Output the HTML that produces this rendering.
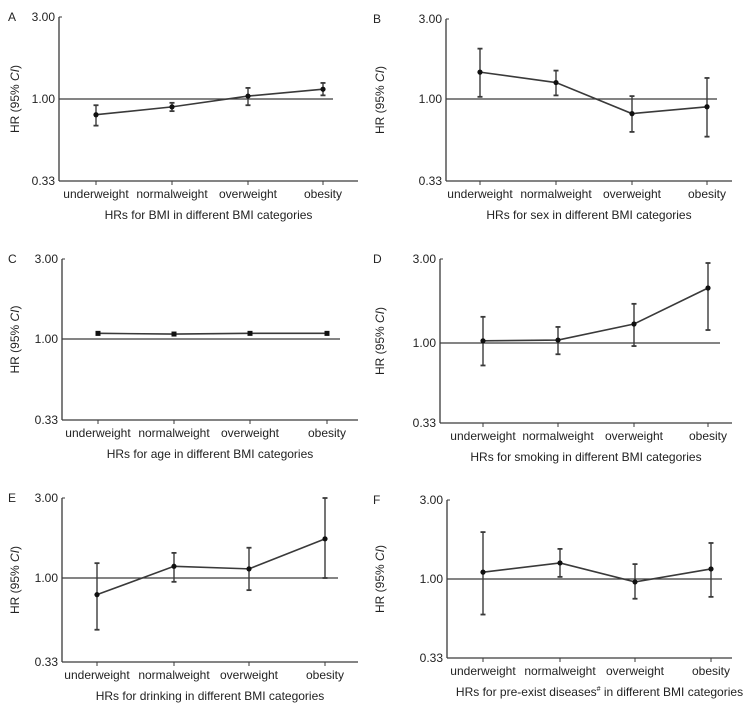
<!DOCTYPE html>
<html><head><meta charset="utf-8"><style>
body{margin:0;background:#fff;}
svg{display:block;font-family:"Liberation Sans",sans-serif;}
</style></head><body>
<svg id="fig" width="751" height="706" viewBox="0 0 751 706"></svg>
<script>
const categories=["underweight","normalweight","overweight","obesity"];
const panelLetters=["A","B","C","D","E","F"];
const panelTitles=["HRs for BMI in different BMI categories","HRs for sex in different BMI categories","HRs for age in different BMI categories","HRs for smoking in different BMI categories","HRs for drinking in different BMI categories","HRs for pre-exist diseases# in different BMI categories"];
const yTickLabels=["3.00","1.00","0.33"];
const yTickValues=[3,1,0.33];
const hrA=[0.81,0.90,1.04,1.14], loA=[0.70,0.85,0.92,1.05], hiA=[0.92,0.95,1.16,1.24];
const hrB=[1.44,1.25,0.82,0.90], loB=[1.03,1.05,0.64,0.60], hiB=[1.98,1.47,1.04,1.33];
const hrC=[1.08,1.07,1.08,1.08], loC=[1.06,1.06,1.07,1.06], hiC=[1.10,1.08,1.09,1.10];
const hrD=[1.03,1.04,1.29,2.09], loD=[0.74,0.86,0.96,1.19], hiD=[1.42,1.24,1.69,2.92];
const hrE=[0.80,1.17,1.13,1.69], loE=[0.50,0.95,0.85,1.00], hiE=[1.22,1.40,1.50,2.92];
const hrF=[1.10,1.25,0.96,1.15], loF=[0.61,1.03,0.76,0.78], hiF=[1.92,1.52,1.23,1.65];
const series=[[hrA,loA,hiA],[hrB,loB,hiB],[hrC,loC,hiC],[hrD,loD,hiD],[hrE,loE,hiE],[hrF,loF,hiF]];
const geo=[
 {ax:59,top:17,one:99,bot:181,xe:358,re:333,cx:[96,172,248,323],lx:8},
 {ax:446,top:19,one:99,bot:181,xe:732,re:717,cx:[480,556,632,707],lx:373},
 {ax:62,top:259,one:339,bot:420,xe:358,re:340,cx:[98,174,250,327],lx:8},
 {ax:440,top:259,one:343,bot:423,xe:732,re:720,cx:[483,558,634,708],lx:373},
 {ax:62,top:498,one:578,bot:662,xe:358,re:338,cx:[97,174,249,325],lx:8},
 {ax:447,top:500,one:579,bot:658,xe:732,re:722,cx:[483,560,635,711],lx:373}
];
const NS="http://www.w3.org/2000/svg";
const svg=document.getElementById('fig');
function mk(tag,at,parent,txt){const e=document.createElementNS(NS,tag);for(const k in at)e.setAttribute(k,at[k]);if(txt!==undefined)e.textContent=txt;parent.appendChild(e);return e;}
const C="#3a3a3a";
geo.forEach((g,p)=>{
  const grp=mk('g',{},svg);
  
  
  const half=(g.bot-g.top)/2;
  const y=v=>g.one-Math.log(v)/Math.log(3)*half;
  const lt=mk('text',{x:g.lx,y:g.top+4,'font-size':12,fill:'#222'},grp,panelLetters[p]);
  
  
  const ya=mk('line',{x1:g.ax,y1:g.top,x2:g.ax,y2:g.bot,stroke:C,'stroke-width':1.3},grp);
  
  
  const xa=mk('line',{x1:g.ax,y1:g.bot,x2:g.xe,y2:g.bot,stroke:C,'stroke-width':1.3},grp);
  
  
  yTickValues.forEach((v,i)=>{
    const yy=i==0?g.top:(i==2?g.bot:y(v));
    mk('line',{x1:g.ax,y1:yy,x2:g.ax+3,y2:yy,stroke:C},grp);
    const t=mk('text',{x:g.ax-4,y:yy+4,'font-size':12,'text-anchor':'end',fill:'#222'},grp,yTickLabels[i]);
    
    
  });
  const yt=mk('text',{transform:`translate(${g.lx+11},${(g.top+g.bot)/2}) rotate(-90)`,'font-size':12,'text-anchor':'middle',fill:'#222'},grp);
  
  
  mk('tspan',{},yt,'HR (95% ');mk('tspan',{'font-style':'italic'},yt,'CI');mk('tspan',{},yt,')');
  const ref=mk('line',{x1:g.ax,y1:y(1),x2:g.re,y2:y(1),stroke:C,'stroke-width':1.3},grp);
  
  
  const [hr,lo,hi]=series[p];
  categories.forEach((c,i)=>{
    const x=g.cx[i];
    mk('line',{x1:x,y1:g.bot,x2:x,y2:g.bot+4,stroke:C},grp);
    const t=mk('text',{x:x,y:g.bot+17,'font-size':12,'text-anchor':'middle',fill:'#222'},grp,c);
    
    
  });
  const pts=hr.map((v,i)=>g.cx[i]+','+y(v)).join(' ');
  const pl=mk('polyline',{points:pts,fill:'none',stroke:C,'stroke-width':1.6},grp);
  
  
  hr.forEach((v,i)=>{
    const x=g.cx[i];
    const eb=mk('g',{},grp);
    
    
    mk('line',{x1:x,y1:y(lo[i]),x2:x,y2:y(hi[i]),stroke:C,'stroke-width':1.4},eb);
    mk('line',{x1:x-2.5,y1:y(lo[i]),x2:x+2.5,y2:y(lo[i]),stroke:C,'stroke-width':1.8},eb);
    mk('line',{x1:x-2.5,y1:y(hi[i]),x2:x+2.5,y2:y(hi[i]),stroke:C,'stroke-width':1.8},eb);
    let pt;
    if(p==2) pt=mk('rect',{x:x-2.5,y:y(v)-2.5,width:5,height:5,fill:'#111'},grp);
    else pt=mk('circle',{cx:x,cy:y(v),r:2.6,fill:'#111'},grp);
    
    
  });
  const tt=mk('text',{x:(g.ax+g.xe)/2+(p==5?10:0),y:g.bot+38,'font-size':12,'text-anchor':'middle',fill:'#222'},grp);
  
  
  if(p==5){mk('tspan',{},tt,'HRs for pre-exist diseases');mk('tspan',{'font-size':7,dy:-5},tt,'#');mk('tspan',{dy:5},tt,' in different BMI categories');}
  else tt.textContent=panelTitles[p];
});
</script>
</body></html>
